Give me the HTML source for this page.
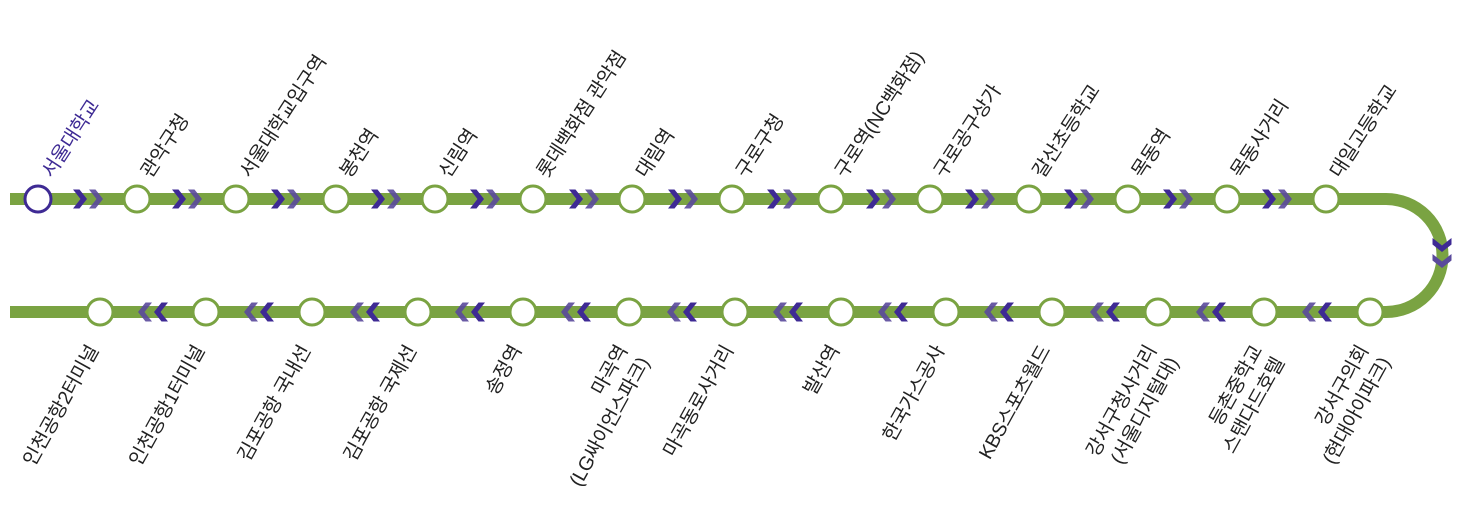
<!DOCTYPE html>
<html><head><meta charset="utf-8"><style>
html,body{margin:0;padding:0;background:#fff;}
svg{display:block;}
text{font-family:"Liberation Sans","Noto Sans CJK KR",sans-serif;font-size:19.5px;fill:#222;letter-spacing:-0.3px;}
</style></head><body>
<svg width="1468" height="523" viewBox="0 0 1468 523" xmlns="http://www.w3.org/2000/svg">
<defs>
<path id="chev" d="M-7,-9.5 L-0.5,-9.5 L7,0 L-0.5,9.5 L-7,9.5 L0.5,0 Z"/>
</defs>
<path d="M10,199 H1386 A56.5,56.5 0 0 1 1386,312 H10" fill="none" stroke="#7aa342" stroke-width="12"/>
<g fill="#3e2a94">
<use href="#chev" x="80" y="199"/><use href="#chev" x="179" y="199"/><use href="#chev" x="278" y="199"/><use href="#chev" x="378" y="199"/><use href="#chev" x="477" y="199"/><use href="#chev" x="576" y="199"/><use href="#chev" x="675" y="199"/><use href="#chev" x="774" y="199"/><use href="#chev" x="873" y="199"/><use href="#chev" x="972" y="199"/><use href="#chev" x="1071" y="199"/><use href="#chev" x="1170" y="199"/><use href="#chev" x="1269" y="199"/>
</g>
<g fill="#5a4a9c" opacity="0.9">
<use href="#chev" x="96" y="199"/><use href="#chev" x="195" y="199"/><use href="#chev" x="294" y="199"/><use href="#chev" x="394" y="199"/><use href="#chev" x="493" y="199"/><use href="#chev" x="592" y="199"/><use href="#chev" x="691" y="199"/><use href="#chev" x="790" y="199"/><use href="#chev" x="889" y="199"/><use href="#chev" x="988" y="199"/><use href="#chev" x="1087" y="199"/><use href="#chev" x="1186" y="199"/><use href="#chev" x="1285" y="199"/>
</g>
<use href="#chev" transform="translate(1442,245) rotate(90)" fill="#3e2a94"/>
<use href="#chev" transform="translate(1442,261) rotate(90)" fill="#5a4a9c"/>
<g fill="#3e2a94">
<use href="#chev" transform="translate(1325,312) rotate(180)"/><use href="#chev" transform="translate(1219,312) rotate(180)"/><use href="#chev" transform="translate(1113,312) rotate(180)"/><use href="#chev" transform="translate(1007,312) rotate(180)"/><use href="#chev" transform="translate(901,312) rotate(180)"/><use href="#chev" transform="translate(796,312) rotate(180)"/><use href="#chev" transform="translate(690,312) rotate(180)"/><use href="#chev" transform="translate(584,312) rotate(180)"/><use href="#chev" transform="translate(478,312) rotate(180)"/><use href="#chev" transform="translate(373,312) rotate(180)"/><use href="#chev" transform="translate(267,312) rotate(180)"/><use href="#chev" transform="translate(161,312) rotate(180)"/>
</g>
<g fill="#5a4a9c" opacity="0.9">
<use href="#chev" transform="translate(1309,312) rotate(180)"/><use href="#chev" transform="translate(1203,312) rotate(180)"/><use href="#chev" transform="translate(1097,312) rotate(180)"/><use href="#chev" transform="translate(991,312) rotate(180)"/><use href="#chev" transform="translate(885,312) rotate(180)"/><use href="#chev" transform="translate(780,312) rotate(180)"/><use href="#chev" transform="translate(674,312) rotate(180)"/><use href="#chev" transform="translate(568,312) rotate(180)"/><use href="#chev" transform="translate(462,312) rotate(180)"/><use href="#chev" transform="translate(357,312) rotate(180)"/><use href="#chev" transform="translate(251,312) rotate(180)"/><use href="#chev" transform="translate(145,312) rotate(180)"/>
</g>
<g fill="#fff" stroke="#7aa342" stroke-width="3">
<circle cx="38" cy="199" r="13" stroke="#3e2a94"/>
<circle cx="137" cy="199" r="13"/><circle cx="236" cy="199" r="13"/><circle cx="336" cy="199" r="13"/><circle cx="435" cy="199" r="13"/><circle cx="533" cy="199" r="13"/><circle cx="632" cy="199" r="13"/><circle cx="732" cy="199" r="13"/><circle cx="831" cy="199" r="13"/><circle cx="930" cy="199" r="13"/><circle cx="1029" cy="199" r="13"/><circle cx="1128" cy="199" r="13"/><circle cx="1227" cy="199" r="13"/><circle cx="1326" cy="199" r="13"/>
<circle cx="100" cy="312" r="13"/><circle cx="206" cy="312" r="13"/><circle cx="312" cy="312" r="13"/><circle cx="418" cy="312" r="13"/><circle cx="523" cy="312" r="13"/><circle cx="629" cy="312" r="13"/><circle cx="735" cy="312" r="13"/><circle cx="841" cy="312" r="13"/><circle cx="946" cy="312" r="13"/><circle cx="1052" cy="312" r="13"/><circle cx="1158" cy="312" r="13"/><circle cx="1264" cy="312" r="13"/><circle cx="1370" cy="312" r="13"/>
</g>
<g>
<text transform="translate(52,179) rotate(-57)" style="fill:#3e2a94">서울대학교</text>
<text transform="translate(151,179) rotate(-57)">관악구청</text>
<text transform="translate(250,179) rotate(-57)">서울대학교입구역</text>
<text transform="translate(350,179) rotate(-57)">봉천역</text>
<text transform="translate(449,179) rotate(-57)">신림역</text>
<text transform="translate(547,179) rotate(-57)">롯데백화점 관악점</text>
<text transform="translate(646,179) rotate(-57)">대림역</text>
<text transform="translate(746,179) rotate(-57)">구로구청</text>
<text transform="translate(845,179) rotate(-57)">구로역(NC백화점)</text>
<text transform="translate(944,179) rotate(-57)">구로공구상가</text>
<text transform="translate(1043,179) rotate(-57)">갈산초등학교</text>
<text transform="translate(1142,179) rotate(-57)">목동역</text>
<text transform="translate(1241,179) rotate(-57)">목동사거리</text>
<text transform="translate(1340,179) rotate(-57)">대일고등학교</text>
</g>
<g text-anchor="end">
<text transform="translate(99,350) rotate(-61)">인천공항2터미널</text>
<text transform="translate(205,350) rotate(-61)">인천공항1터미널</text>
<text transform="translate(311,350) rotate(-61)">김포공항 국내선</text>
<text transform="translate(417,350) rotate(-61)">김포공항 국제선</text>
<text transform="translate(522,350) rotate(-61)">송정역</text>
<text transform="translate(628,350) rotate(-61)"><tspan x="0" y="0">마곡역</tspan><tspan x="0" y="25">(LG싸이언스파크)</tspan></text>
<text transform="translate(734,350) rotate(-61)">마곡동로사거리</text>
<text transform="translate(840,350) rotate(-61)">발산역</text>
<text transform="translate(945,350) rotate(-61)">한국가스공사</text>
<text transform="translate(1051,350) rotate(-61)">KBS스포츠월드</text>
<text transform="translate(1157,350) rotate(-61)"><tspan x="0" y="0">강서구청사거리</tspan><tspan x="0" y="25">(서울디지털대)</tspan></text>
<text transform="translate(1263,350) rotate(-61)"><tspan x="0" y="0">등촌중학교</tspan><tspan x="0" y="25">스탠다드호텔</tspan></text>
<text transform="translate(1369,350) rotate(-61)"><tspan x="0" y="0">강서구의회</tspan><tspan x="0" y="25">(현대아이파크)</tspan></text>
</g>
</svg>
</body></html>
